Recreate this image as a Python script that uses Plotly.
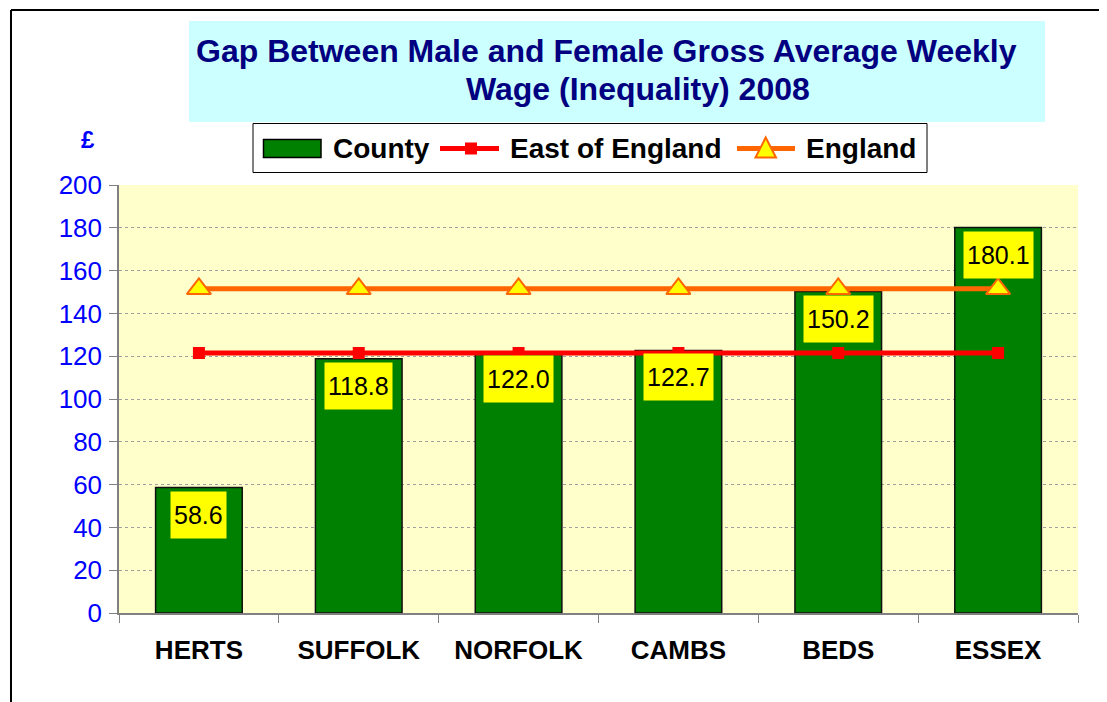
import plotly.graph_objects as go

# ---- data ----
categories = ["HERTS", "SUFFOLK", "NORFOLK", "CAMBS", "BEDS", "ESSEX"]
county_values = [58.6, 118.8, 122.0, 122.7, 150.2, 180.1]
east_of_england = [121.5, 121.5, 121.5, 121.5, 121.5, 121.5]
england = [151.5, 151.5, 151.5, 151.5, 151.5, 151.5]
y_ticks = [0, 20, 40, 60, 80, 100, 120, 140, 160, 180, 200]

title_line1 = "Gap Between Male and Female Gross Average Weekly"
title_line2 = "Wage (Inequality) 2008"
series_names = ["County", "East of England", "England"]

# ---- layout geometry ----
# the page body has an 8px margin, so the figure is drawn 8px in from the window edge
OFF = 8
W, H = 1107 - OFF, 702 - OFF
PLOT_L, PLOT_R, PLOT_T, PLOT_B = 119, 1078, 185, 613   # window pixel coords of plot area
L, T = PLOT_L - OFF, PLOT_T - OFF
R, B = W - (PLOT_R - OFF), H - (PLOT_B - OFF)
PW, PH = W - L - R, H - T - B
FONT = "Arial, Liberation Sans, sans-serif"


def px(x):
    return (x - PLOT_L) / PW


def py(y):
    return (PLOT_B - y) / PH


fig = go.Figure()

fig.add_trace(go.Bar(
    x=categories, y=county_values, name=series_names[0],
    marker=dict(color="#008000", line=dict(color="#111111", width=1.5)),
    showlegend=False, hoverinfo="x+y",
))
fig.add_trace(go.Scatter(
    x=categories, y=east_of_england, name=series_names[1], mode="lines+markers",
    line=dict(color="#FF0000", width=5),
    marker=dict(symbol="square", size=12, color="#FF0000"),
    showlegend=False,
))
fig.add_trace(go.Scatter(
    x=categories, y=england, name=series_names[2], mode="lines+markers",
    line=dict(color="#FF6600", width=5),
    marker=dict(symbol="triangle-up", size=21, color="#FFFF00",
                line=dict(color="#FF6600", width=2)),
    showlegend=False,
))

annotations = []
# data labels
for c, v in zip(categories, county_values):
    annotations.append(dict(
        x=c, y=v, xref="x", yref="y", text=f"{v:.1f}", showarrow=False,
        yanchor="top", xanchor="center", yshift=-3,
        bgcolor="#FFFF00", borderpad=3, borderwidth=1, bordercolor="rgba(0,0,0,0)",
        height=40, font=dict(family=FONT, size=25, color="#000000"),
    ))

# title
annotations.append(dict(
    x=px(606), y=py(51), xref="paper", yref="paper", text=title_line1,
    showarrow=False, xanchor="center", yanchor="middle",
    font=dict(family=FONT, size=32, color="#000080", weight="bold"),
))
annotations.append(dict(
    x=px(638), y=py(88.5), xref="paper", yref="paper", text=title_line2,
    showarrow=False, xanchor="center", yanchor="middle",
    font=dict(family=FONT, size=32, color="#000080", weight="bold"),
))
# pound sign
annotations.append(dict(
    x=px(88), y=py(139.5), xref="paper", yref="paper", text="£",
    showarrow=False, xanchor="center", yanchor="middle",
    font=dict(family=FONT, size=24, color="#0000FF", weight="bold"),
))
# legend texts
for name, xl in zip(series_names, [331, 508, 804]):
    annotations.append(dict(
        x=px(xl), y=py(148.5), xref="paper", yref="paper", text=name,
        showarrow=False, xanchor="left", yanchor="middle",
        font=dict(family=FONT, size=28, color="#000000", weight="bold"),
    ))

shapes = [
    # outer frame (left and top edges visible)
    dict(type="line", xref="paper", yref="paper", x0=px(11), x1=px(11), y0=py(10), y1=py(720),
         line=dict(color="#000000", width=2)),
    dict(type="line", xref="paper", yref="paper", x0=px(11), x1=px(1120), y0=py(10), y1=py(10),
         line=dict(color="#000000", width=2)),
    # title box
    dict(type="rect", xref="paper", yref="paper", x0=px(189), x1=px(1045), y0=py(21), y1=py(122),
         fillcolor="#CCFFFF", line=dict(width=0), layer="below"),
    # legend box
    dict(type="rect", xref="paper", yref="paper", x0=px(253), x1=px(927), y0=py(123.5), y1=py(172.5),
         fillcolor="#FFFFFF", line=dict(color="#000000", width=1), layer="below"),
    # legend: county swatch
    dict(type="rect", xref="paper", yref="paper", x0=px(263.5), x1=px(321), y0=py(139.5), y1=py(157.5),
         fillcolor="#008000", line=dict(color="#000000", width=1.5)),
    # legend: east of england line + square
    dict(type="line", xref="paper", yref="paper", x0=px(440), x1=px(499), y0=py(148.5), y1=py(148.5),
         line=dict(color="#FF0000", width=5)),
    dict(type="rect", xref="paper", yref="paper", x0=px(465), x1=px(477), y0=py(142.5), y1=py(154.5),
         fillcolor="#FF0000", line=dict(width=0)),
    # legend: england line + triangle
    dict(type="line", xref="paper", yref="paper", x0=px(737), x1=px(795), y0=py(148.5), y1=py(148.5),
         line=dict(color="#FF6600", width=5)),
    dict(type="path", xref="paper", yref="paper",
         path=f"M {px(755.5)},{py(157.5)} L {px(776)},{py(157.5)} L {px(765.7)},{py(137.5)} Z",
         fillcolor="#FFFF00", line=dict(color="#FF6600", width=2)),
]

fig.update_layout(
    width=W, height=H,
    margin=dict(l=L, r=R, t=T, b=B, pad=0),
    paper_bgcolor="#FFFFFF", plot_bgcolor="#FFFFCC",
    bargap=0.458,
    showlegend=False,
    annotations=annotations,
    shapes=shapes,
    font=dict(family=FONT),
    xaxis=dict(
        type="category", categoryorder="array", categoryarray=categories,
        showline=True, linecolor="#808080", linewidth=1.5,
        ticks="outside", tickson="boundaries", ticklen=8, tickcolor="#808080",
        tickfont=dict(family=FONT, size=26, color="#000000", weight="bold"),
        ticklabelstandoff=13, showgrid=False, fixedrange=True,
    ),
    yaxis=dict(
        range=[0, 200], tickvals=y_ticks,
        showline=True, linecolor="#808080", linewidth=1.5,
        ticks="outside", ticklen=8, tickcolor="#808080",
        tickfont=dict(family=FONT, size=26, color="#0000FF"),
        ticklabelstandoff=2,
        showgrid=True, gridcolor="#A0A0A0", griddash="dot", gridwidth=1,
        zeroline=False, fixedrange=True,
    ),
)

fig.write_html("out.html")
